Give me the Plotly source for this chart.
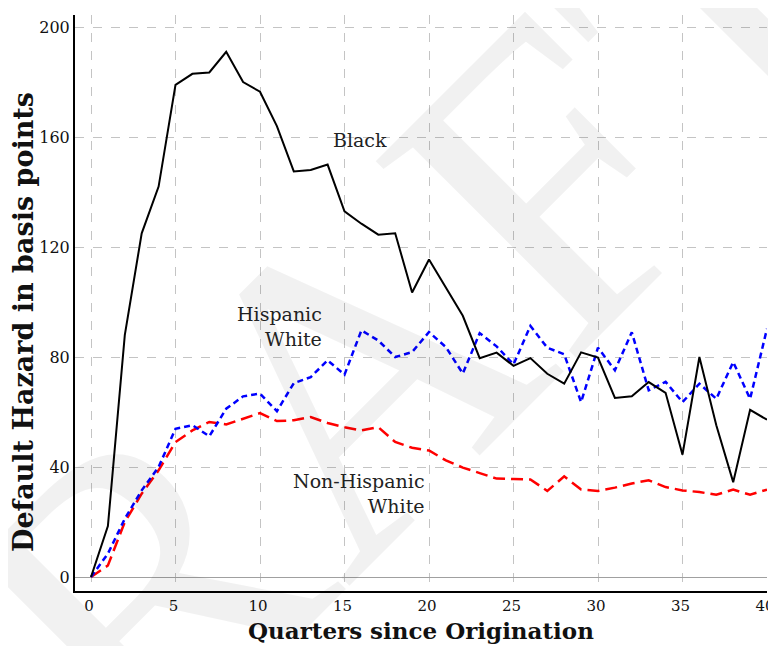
import plotly.graph_objects as go

quarters = list(range(0, 41))
black = [0, 18.5, 88, 125, 142, 179, 183, 183.5, 191, 180, 176.5, 164, 147.5, 148, 150,
         133, 128.5, 124.5, 125, 103.5, 115.5, 105.5, 95, 79.6, 81.6, 76.8, 79.6, 73.9,
         70.3, 81.7, 79.8, 65.1, 65.7, 70.9, 67, 44.5, 80, 55.2, 34.5, 60.8, 57.2]
hispanic = [0, 8.5, 21.2, 31.5, 40, 53.9, 55.2, 51.2, 61.2, 65.7, 66.7, 60.3, 70.5, 72.7,
            78.8, 73.6, 89.7, 86, 80, 81.8, 89.1, 83.6, 74, 88.7, 83.9, 77.3, 91.3, 83.4,
            81, 63.6, 83.4, 75.2, 89, 67.9, 71, 63.6, 70.3, 64.8, 78.2, 64.8, 90.3]
nonhispanic = [0, 4.2, 20, 30.3, 38.8, 49.1, 53.3, 56.4, 55.5, 57.6, 59.6, 56.7, 57, 58.2,
               56, 54.5, 53.3, 54.5, 49.1, 47, 46, 42.4, 39.8, 37.8, 35.8, 35.6, 35.5,
               31.3, 36.6, 31.8, 31.3, 32.5, 34, 35.2, 32.7, 31.5, 30.9, 29.9, 31.8, 29.9, 31.8]
x_ticks = [0, 5, 10, 15, 20, 25, 30, 35, 40]
y_ticks = [0, 40, 80, 120, 160, 200]

serif = "DejaVu Serif, Liberation Serif, serif"

# page offset (browser body margin) compensation
OFF = 8
W, H = 776 - OFF, 646 - OFF
L, T, R, B = 75 - OFF, 15 - OFF, 9, 55
PW, PH = W - L - R, H - T - B


def px(page_x):
    return (page_x - OFF - L) / PW


def py(page_y):
    return (H - B - (page_y - OFF)) / PH


fig = go.Figure()
fig.add_trace(go.Scatter(x=quarters, y=nonhispanic, mode="lines", name="Non-Hispanic White",
                         line=dict(color="#ff0000", width=2.5, dash="12px,6px")))
fig.add_trace(go.Scatter(x=quarters, y=hispanic, mode="lines", name="Hispanic White",
                         line=dict(color="#0000ff", width=2.5, dash="6px,4px")))
fig.add_trace(go.Scatter(x=quarters, y=black, mode="lines", name="Black",
                         line=dict(color="#000000", width=2)))

# DRAFT watermark
fig.add_annotation(text="DRAFT", xref="paper", yref="paper", x=px(320), y=py(410),
                   xanchor="center", yanchor="middle",
                   showarrow=False, textangle=-45,
                   font=dict(family="Liberation Serif, serif", size=430, color="rgba(0,0,0,0.055)"))

fig.add_annotation(text="Black", x=14.2, y=159, xanchor="left", showarrow=False,
                   font=dict(family=serif, size=19, color="#222"))
fig.add_annotation(text="Hispanic<br>White", x=13.8, y=91, xanchor="right", align="right",
                   showarrow=False, font=dict(family=serif, size=19, color="#222"))
fig.add_annotation(text="Non-Hispanic<br>White", x=19.9, y=30.5, xanchor="right", align="right",
                   showarrow=False, font=dict(family=serif, size=19, color="#222"))

# axis titles
fig.add_annotation(text="<b>Quarters since Origination</b>", xref="paper", yref="paper",
                   x=px(421), y=py(630), xanchor="center", yanchor="middle", showarrow=False,
                   font=dict(family=serif, size=23, color="#111"))
fig.add_annotation(text="<b>Default Hazard in basis points</b>", xref="paper", yref="paper",
                   x=px(23), y=py(322), xanchor="center", yanchor="middle",
                   showarrow=False, textangle=-90,
                   font=dict(family=serif, size=27, color="#111"))

fig.update_layout(
    width=W, height=H,
    margin=dict(l=L, r=R, t=T, b=B),
    plot_bgcolor="white", paper_bgcolor="white",
    showlegend=False,
    font=dict(family=serif, size=16, color="#111"),
)
fig.update_xaxes(range=[-0.947, 40], tickvals=x_ticks, ticktext=[str(v) for v in x_ticks],
                 showgrid=True, gridcolor="#c4c4c4", griddash="dash", gridwidth=1,
                 zeroline=False, showline=True, linecolor="black", linewidth=2,
                 ticks="", tickfont=dict(size=15), automargin=False,
                 ticklabeloverflow="allow", ticklabelshift=-2)
fig.update_yaxes(range=[-5.09, 204.4], tickvals=y_ticks, ticktext=[str(v) for v in y_ticks],
                 showgrid=True, gridcolor="#c4c4c4", griddash="dash", gridwidth=1,
                 zeroline=True, zerolinecolor="#a0a0a0", zerolinewidth=1,
                 showline=True, linecolor="black", linewidth=2,
                 ticks="", tickfont=dict(size=16), automargin=False,
                 ticklabeloverflow="allow")

fig.write_html("out.html")
